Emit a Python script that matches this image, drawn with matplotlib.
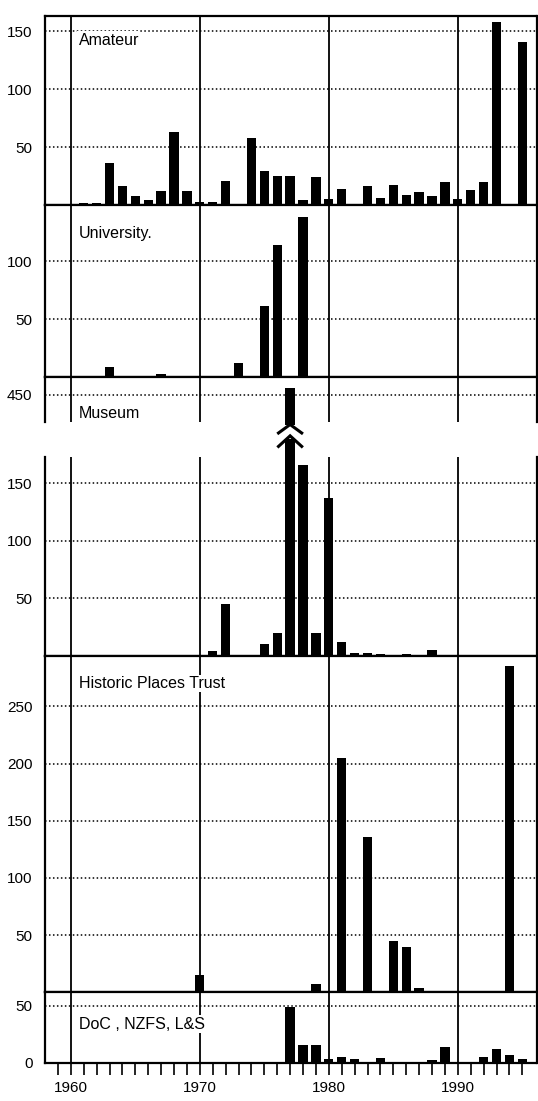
import numpy as np
import matplotlib
matplotlib.use("Agg")
from matplotlib import pyplot as plt

plt.rcParams['font.family'] = ['Liberation Sans', 'DejaVu Sans']

years = np.arange(1958, 1996)

# counts per year (missing years = 0)
amateur = {1959: 1, 1961: 2, 1962: 2, 1963: 36, 1964: 16, 1965: 8, 1966: 4,
           1967: 12, 1968: 63, 1969: 12, 1970: 3, 1971: 3, 1972: 21, 1974: 58,
           1975: 29, 1976: 25, 1977: 25, 1978: 4, 1979: 24, 1980: 5, 1981: 14,
           1983: 16, 1984: 6, 1985: 17, 1986: 9, 1987: 11, 1988: 8, 1989: 20,
           1990: 5, 1991: 13, 1992: 20, 1993: 158, 1995: 141}
university = {1962: 1, 1963: 8, 1967: 2, 1969: 1, 1973: 12, 1975: 61,
              1976: 114, 1978: 139, 1979: 1, 1981: 1, 1990: 1, 1993: 1, 1994: 1}
museum = {1971: 4, 1972: 45, 1975: 10, 1976: 20, 1977: 456, 1978: 166,
          1979: 20, 1980: 137, 1981: 12, 1982: 3, 1983: 3, 1984: 2, 1985: 1,
          1986: 2, 1988: 5, 1992: 1}
hpt = {1970: 15, 1974: 1, 1978: 1, 1979: 7, 1980: 1, 1981: 205, 1982: 1,
       1983: 136, 1984: 1, 1985: 45, 1986: 40, 1987: 4, 1993: 1, 1994: 285}
doc = {1977: 49, 1978: 15.5, 1979: 15.5, 1980: 3, 1981: 5, 1982: 3, 1984: 4,
       1985: 1, 1986: 1, 1988: 2, 1989: 14, 1991: 1, 1992: 5, 1993: 12,
       1994: 7, 1995: 3.5}

decades = [1960, 1970, 1980, 1990]
xtick_labels = ['1960', '1970', '1980', '1990']


def series(d):
    return np.array([d.get(y, 0) for y in years], dtype=float)


W, H = 538, 1101
fig = plt.figure(figsize=(W / 100, H / 100), dpi=100)
L, R = 45 / W, 536.5 / W


def add_panel(top, bot):
    return fig.add_axes([L, 1 - bot / H, R - L, (bot - top) / H])


def style(ax, vals, ylim, yticks, label=None, label_y=None):
    ax.bar(years, vals, width=0.72, color='black', zorder=3)
    ax.set_xlim(1958, 1996.1)
    ax.set_ylim(*ylim)
    ax.set_yticks(yticks)
    ax.tick_params(axis='y', length=0, pad=9, labelsize=11)
    ax.tick_params(axis='x', length=0, labelbottom=False)
    for y in yticks:
        if y > 0:
            ax.axhline(y, color='black', lw=1.1, ls=(0, (1, 1.6)), zorder=1)
    for d in decades:
        ax.axvline(d, color='black', lw=1.3, zorder=2)
    for s in ax.spines.values():
        s.set_linewidth(1.6)
    if label:
        ax.text(1960.6, label_y, label, fontsize=11.5, va='center', ha='left',
                zorder=4, bbox=dict(facecolor='white', edgecolor='none', pad=1))


ax1 = add_panel(16, 205)
style(ax1, series(amateur), (0, 163), [50, 100, 150], 'Amateur', 142)

ax2 = add_panel(205, 376.7)
style(ax2, series(university), (0, 149), [50, 100], 'University.', 124)

# museum, broken axis
mus = series(museum)
ax3a = add_panel(376.7, 421.7)
style(ax3a, mus, (426.8, 465.9), [450])
ax3a.text(1960.6, 434, 'Museum', fontsize=11.5, va='center', ha='left', zorder=4)
ax3a.spines['bottom'].set_visible(False)

ax3b = add_panel(457, 656)
style(ax3b, mus, (0, 173), [50, 100, 150])
ax3b.spines['top'].set_visible(False)

# break marks between the two museum axes
ax_gap = add_panel(421.7, 457)
ax_gap.set_xlim(1958, 1996.1)
ax_gap.set_ylim(0, 1)
ax_gap.axis('off')
big = years[mus > 173]
ax_gap.bar(big, 0.5, width=0.72, color='black')
ax_gap.bar(big, 0.08, bottom=0.92, width=0.72, color='black')
for x in big:
    ax_gap.plot([x - 0.9, x, x + 0.9], [0.68, 0.92, 0.68], color='black', lw=2.2,
                solid_joinstyle='miter')
    ax_gap.plot([x - 0.9, x, x + 0.9], [0.3, 0.6, 0.3], color='black', lw=2.2,
                solid_joinstyle='miter')

ax4 = add_panel(656, 992.3)
style(ax4, series(hpt), (0, 294), [50, 100, 150, 200, 250],
      'Historic Places Trust', 270)

ax5 = add_panel(992.3, 1062.7)
style(ax5, series(doc), (0, 62), [0, 50], 'DoC , NZFS, L&S', 34)
ax5.set_xticks(years[1:])
ax5.set_xticks(decades, minor=False)
ax5.set_xticks([y for y in years[1:] if y not in decades], minor=True)
ax5.set_xticklabels(xtick_labels)
ax5.tick_params(axis='x', which='both', direction='out', length=8.5, width=1.2,
                labelbottom=True, labelsize=11, pad=5)

fig.savefig('out.png', dpi=100, facecolor='white')
